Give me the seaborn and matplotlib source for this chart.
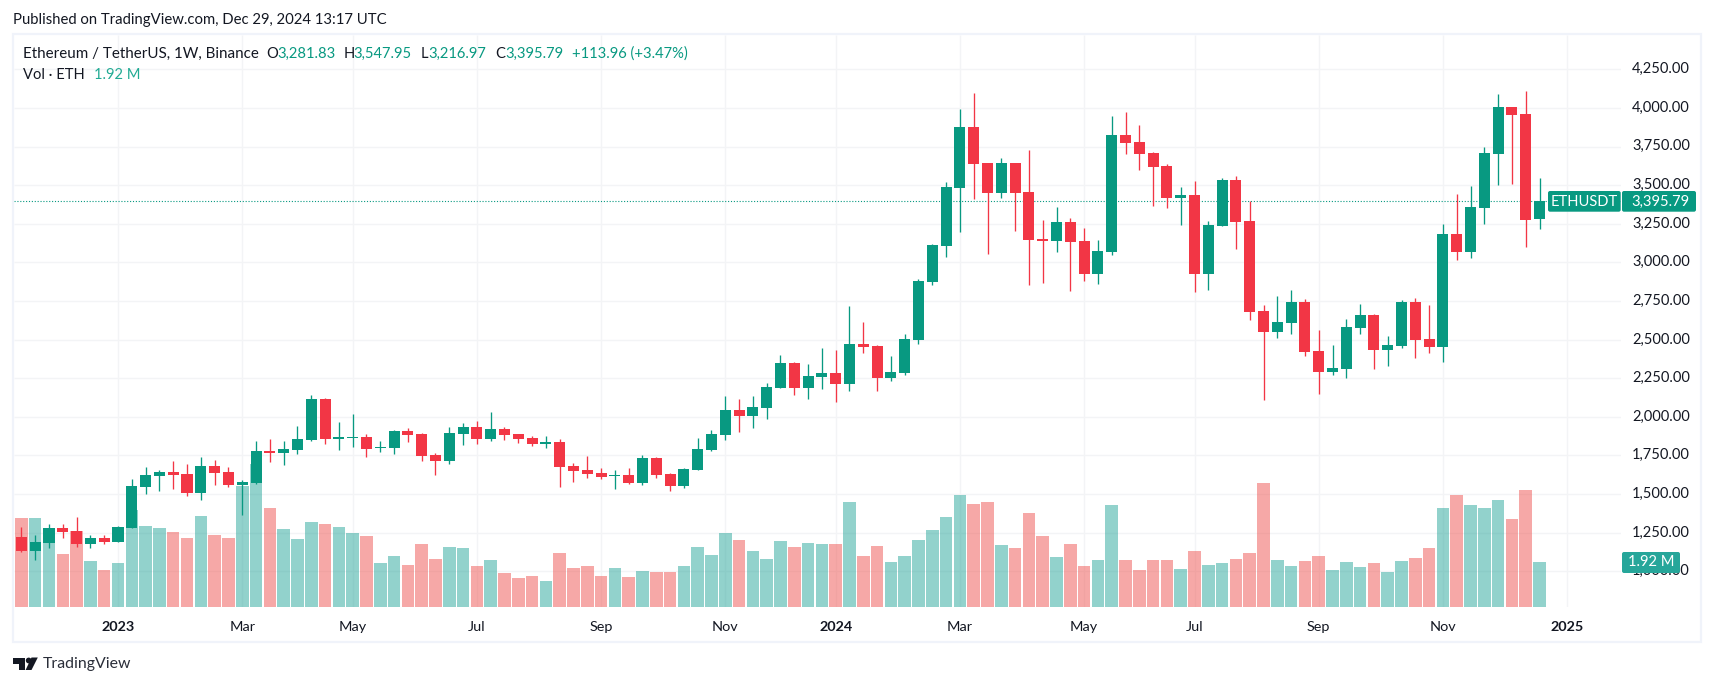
import matplotlib
matplotlib.use("Agg")
import matplotlib.pyplot as plt
from matplotlib.patches import Rectangle, FancyBboxPatch, Polygon, Circle
from matplotlib.ticker import FuncFormatter
from matplotlib.transforms import ScaledTranslation
import pandas as pd
import seaborn as sns

opens = [1222,1131,1183,1280,1261,1177,1216,1190,1280,1546,1617,1643,1630,1507,1682,1643,1559,1572,1779,1766,
         1785,1850,2115,1856,1863,1869,1798,1798,1908,1889,1753,1714,1889,1934,1856,1921,1889,1863,1824,1837,
         1682,1656,1636,1617,1623,1572,1733,1630,1552,1656,1785,1882,2044,2005,2057,2187,2349,2187,2258,2284,
         2213,2472,2459,2252,2284,2497,2873,3106,3481,3876,3643,3449,3643,3456,3151,3138,3261,3138,2925,3067,
         3825,3779,3708,3624,3417,3436,2925,3235,3533,3268,2685,2549,2607,2743,2426,2290,2310,2575,2659,2433,
         2459,2743,2504,2452,3184,3067,3352,3702,4006,3961,3281.83]
highs = [1287,1235,1306,1306,1352,1235,1235,1293,1598,1675,1656,1714,1695,1740,1720,1675,1591,1844,1856,1844,
         1941,2141,2122,1967,2018,1889,1844,1915,1928,1895,1766,1934,1960,1973,2031,1934,1889,1876,1876,1856,
         1701,1746,1669,1656,1669,1753,1740,1636,1669,1863,1915,2135,2115,2135,2219,2400,2355,2342,2446,2433,
         2717,2614,2465,2394,2536,2892,3119,3520,3993,4097,3643,3676,3643,3727,3274,3359,3287,3223,3145,3948,
         3974,3889,3715,3637,3488,3527,3268,3546,3559,3397,2724,2782,2821,2763,2562,2465,2633,2731,2666,2523,
         2756,2769,2724,3248,3443,3494,3747,4090,4006,4110,3547.95]
lows = [1125,1073,1151,1216,1157,1151,1177,1188,1280,1500,1520,1533,1487,1462,1559,1546,1364,1565,1708,1688,
        1759,1844,1824,1785,1805,1740,1772,1759,1837,1714,1623,1695,1818,1824,1844,1850,1831,1811,1798,1546,
        1578,1604,1597,1533,1565,1559,1604,1520,1539,1656,1779,1850,1902,1928,1986,2187,2141,2115,2180,2096,
        2167,2413,2167,2232,2271,2472,2854,3035,3197,3410,3054,3417,3203,2854,2866,3067,2815,2879,2860,3048,
        3702,3598,3365,3352,3242,2808,2821,3235,3087,2627,2110,2510,2536,2394,2148,2271,2252,2536,2310,2329,
        2446,2381,2413,2355,3015,3028,3248,3501,3507,3100,3216.97]
closes = [1131,1190,1280,1254,1177,1216,1190,1287,1552,1623,1643,1623,1507,1682,1636,1559,1578,1779,1766,1792,
          1856,2115,1856,1869,1869,1792,1805,1908,1882,1746,1714,1895,1934,1856,1921,1882,1856,1824,1837,1675,
          1649,1630,1610,1623,1572,1733,1623,1552,1662,1792,1889,2044,2005,2064,2193,2349,2187,2264,2284,2213,
          2472,2452,2252,2290,2504,2879,3113,3488,3876,3637,3449,3643,3449,3145,3138,3261,3132,2925,3074,3825,
          3773,3702,3617,3417,3436,2925,3242,3533,3261,2679,2549,2614,2743,2420,2290,2316,2582,2659,2433,2465,
          2743,2497,2452,3184,3067,3359,3708,4006,3954,3274,3395.79]
volumes = [3.81,3.81,3.38,2.26,3.25,1.96,1.57,1.88,4.15,3.46,3.38,3.21,2.95,3.89,3.08,2.95,5.18,6.13,4.24,3.34,
           2.91,3.64,3.55,3.42,3.16,3.04,1.88,2.18,1.79,2.69,2.05,2.56,2.52,1.75,2.00,1.45,1.23,1.32,1.10,2.31,
           1.66,1.75,1.32,1.66,1.27,1.53,1.49,1.49,1.75,2.56,2.22,3.16,2.86,2.39,2.05,2.82,2.56,2.73,2.69,2.69,
           4.50,2.18,2.61,1.92,2.18,2.86,3.29,3.85,4.80,4.41,4.50,2.65,2.52,4.02,3.04,2.13,2.69,1.75,2.00,4.37,
           2.00,1.57,2.00,2.00,1.62,2.39,1.79,1.88,2.05,2.31,5.31,2.00,1.75,1.96,2.18,1.57,1.92,1.70,1.88,1.49,
           1.96,2.09,2.52,4.24,4.80,4.37,4.24,4.58,3.77,5.01,1.92]
prior_volume = 9.66  # the week just cut off by the left edge, a down week
time_ticks = [7, 16, 24, 33, 42, 51, 59, 68, 77, 85, 94, 103, 112]
time_labels = ["2023", "Mar", "May", "Jul", "Sep", "Nov", "2024", "Mar", "May", "Jul", "Sep", "Nov", "2025"]
year_labels = {"2023", "2024", "2025"}
price_ticks = [1000, 1250, 1500, 1750, 2000, 2250, 2500, 2750, 3000, 3250, 3500, 3750, 4000, 4250]

UP, DOWN = "#089981", "#F23645"
VOL_UP, VOL_DOWN = "#26A69A", "#EF5350"
GRID, FRAME, INK = "#F3F4F6", "#F0F3FA", "#131722"
FONT = "Lato"
W, H = 1714, 686
PRICE_MIN, PRICE_MAX = 769, 4472
VOL_MAX = 24.57

sns.set_theme(style="white")
plt.rcParams["font.family"] = [FONT, "DejaVu Sans"]

weeks = list(range(len(closes)))
frame = pd.DataFrame({"week": [-1] + weeks, "vol": [prior_volume] + volumes,
                      "side": ["down"] + ["up" if c >= o else "down" for o, c in zip(opens, closes)]})

fig = plt.figure(figsize=(W / 100, H / 100), dpi=100, facecolor="white")
rect = [14 / W, 1 - 607 / H, (1621 - 14) / W, (607 - 35) / H]

ax_grid = fig.add_axes(rect, zorder=0)
ax_vol = fig.add_axes(rect, zorder=1)
ax = fig.add_axes(rect, zorder=2)
ax_vol.patch.set_visible(False)
ax.patch.set_visible(False)

xlim = (-0.536, 115.9)

ax_grid.set_xlim(xlim)
ax_grid.set_ylim(PRICE_MIN, PRICE_MAX)
ax_grid.hlines(price_ticks, *xlim, color=GRID, lw=1.0)
ax_grid.vlines(time_ticks, PRICE_MIN, PRICE_MAX, color=GRID, lw=1.0)
ax_grid.set_xticks([])
ax_grid.set_yticks([])

sns.barplot(data=frame, x="week", y="vol", hue="side", native_scale=True, dodge=False, width=0.91,
            palette={"up": VOL_UP, "down": VOL_DOWN}, alpha=0.5, saturation=1, linewidth=0,
            legend=False, ax=ax_vol)
ax_vol.set_xlim(xlim)
ax_vol.set_ylim(0, VOL_MAX)
ax_vol.set_yticks([])
ax_vol.set_xticks([])
ax_vol.set_xlabel("")
ax_vol.set_ylabel("")

colors = [UP if c >= o else DOWN for o, c in zip(opens, closes)]
ax.axhline(closes[-1], color=UP, lw=0.8, ls=(0, (1, 1.6)), zorder=1)
ax.vlines(weeks, lows, highs, colors=colors, lw=0.95, zorder=2)
ax.bar(weeks, [abs(c - o) for o, c in zip(opens, closes)], bottom=[min(o, c) for o, c in zip(opens, closes)],
       width=0.8, color=colors, linewidth=0, zorder=3)
ax.set_xlim(xlim)
ax.set_ylim(PRICE_MIN, PRICE_MAX)

ax.yaxis.tick_right()
ax.set_yticks(price_ticks)
ax.yaxis.set_major_formatter(FuncFormatter(lambda v, _: f"{v:,.2f}"))
ax.set_xticks(time_ticks)
ax.set_xticklabels(time_labels)
ax.tick_params(axis="y", length=0, pad=8, labelsize=10.5, labelcolor=INK)
ax.tick_params(axis="x", length=0, pad=10, labelsize=10.4, labelcolor=INK)
for lab in ax.get_xticklabels():
    if lab.get_text() in year_labels:
        lab.set_fontweight("bold")
lift = ScaledTranslation(0, 1.2 / 72, fig.dpi_scale_trans)
for lab in ax.get_yticklabels():
    lab.set_transform(lab.get_transform() + lift)
for a in (ax, ax_vol, ax_grid):
    for side in a.spines:
        a.spines[side].set_visible(False)

# page furniture, in pixel units of the picture
page = fig.add_axes([0, 0, 1, 1], zorder=3)
page.set_xlim(0, W)
page.set_ylim(H, 0)
page.axis("off")
page.add_patch(Rectangle((13, 34), 1701 - 13, 642 - 34, fill=False, ec=FRAME, lw=1.6))

def tx(x, y, s, color=INK, size=10.6, **kw):
    page.text(x, y, s, color=color, fontsize=size, va="center", ha=kw.pop("ha", "left"), **kw)

tx(13.3, 20, "Published on TradingView.com, Dec 29, 2024 13:17 UTC", size=10.7)
tx(23.3, 53.5, "Ethereum / TetherUS, 1W, Binance", size=10.9)
for xl, xv, l, v in [(266, 277, "O", "3,281.83"), (343.7, 353.6, "H", "3,547.95"),
                     (421, 428.6, "L", "3,216.97"), (495.6, 505, "C", "3,395.79")]:
    tx(xl, 53.5, l)
    tx(xv, 53.5, v, color=UP)
tx(571.8, 53.5, "+113.96 (+3.47%)", color=UP)
tx(23.3, 75, "Vol · ETH")
tx(94, 75, "1.92 M", color="#22AB94")

def box(x0, x1, y0, y1, color):
    page.add_patch(FancyBboxPatch((x0 + 2, y0 + 2), x1 - x0 - 4, y1 - y0 - 4,
                                  boxstyle="round,pad=2,rounding_size=2", fc=color, ec="none"))

box(1548, 1620.7, 191, 211.7, UP)
box(1622, 1696, 191, 211.7, UP)
box(1622, 1680, 552, 573, "#26A69A")
tx(1584.3, 201.5, "ETHUSDT", color="white", ha="center")
tx(1689, 201.5, "3,395.79", color="white", ha="right")
tx(1651, 562.5, "1.92 M", color="white", ha="center")

# TradingView mark and wordmark
page.add_patch(Polygon([(13, 657.5), (25.5, 657.5), (25.5, 670), (19.5, 670), (19.5, 663.5), (13, 663.5)],
                       fc=INK, ec="none"))
page.add_patch(Circle((28.7, 660.5), 2.9, fc=INK, ec="none"))
page.add_patch(Polygon([(31.5, 657.5), (37.8, 657.5), (31.5, 670), (25.6, 670)], fc=INK, ec="none"))
tx(42.7, 664, "TradingView", color="#2A2E39", size=11.4)

fig.savefig("out.png", dpi=100, facecolor="white")
